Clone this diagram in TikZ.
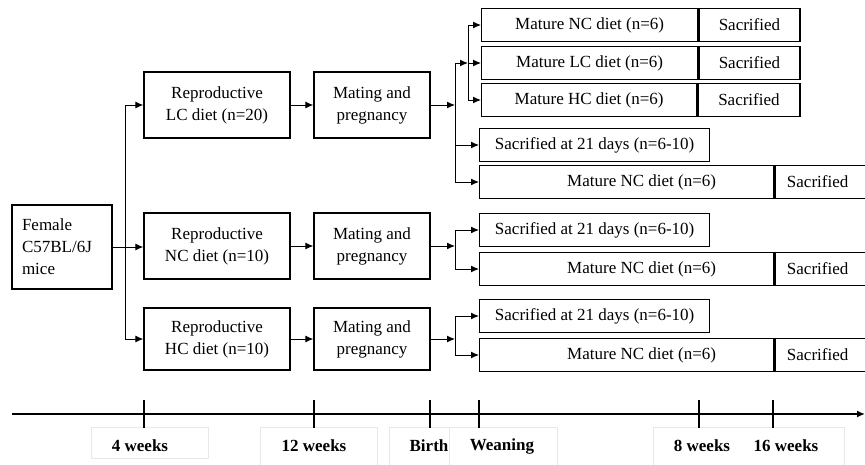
\documentclass[tikz,border=0pt]{standalone}
\usepackage{fontspec}
\setmainfont{Liberation Serif}
\usetikzlibrary{arrows.meta}
\tikzstyle{box}=[draw,line width=1.3pt,minimum height=66pt,font=\fontsize{17}{22}\selectfont,align=center,inner sep=2pt]
\tikzstyle{cell}=[draw,line width=1.3pt,minimum height=33pt,font=\fontsize{17}{20}\selectfont,inner sep=2pt,anchor=west]
\tikzstyle{sac}=[cell,text width=76pt,inner xsep=12pt,align=left]
\tikzstyle{arr}=[line width=1pt,-{Latex[length=8pt,width=7pt]}]
\tikzstyle{ln}=[line width=1pt]
\tikzstyle{tk}=[line width=1.4pt]
\tikzstyle{lab}=[font=\bfseries\fontsize{17}{20}\selectfont,inner sep=1pt]
\tikzstyle{ghost}=[draw=black!9,line width=0.6pt]

\begin{document}
\begin{tikzpicture}[x=1pt,y=-1pt]
    \useasboundingbox (0,0) rectangle (865,464);

    \node[box,text width=80pt,inner xsep=10pt,align=left,minimum height=84pt] (F) at (62,247) {Female\\C57BL/6J\\mice};

    \node[box,minimum width=146pt] (RL) at (217,105) {Reproductive\\LC diet (n=20)};
    \node[box,minimum width=146pt] (RN) at (217,246) {Reproductive\\NC diet (n=10)};
    \node[box,minimum width=146pt,minimum height=62pt] (RH) at (217,339) {Reproductive\\HC diet (n=10)};

    \node[box,minimum width=116pt] (ML) at (372,105) {Mating and\\pregnancy};
    \node[box,minimum width=116pt] (MN) at (372,246) {Mating and\\pregnancy};
    \node[box,minimum width=116pt,minimum height=62pt] (MH) at (372,339) {Mating and\\pregnancy};

    % split to the three diets
    \coordinate (T) at (125,246);
    \draw[arr] (F.east) -- (F.east -| RN.west);
    \draw[ln] (T |- RL.west) -- (T |- RH.west);
    \draw[arr] (T |- RL.west) -- (RL.west);
    \draw[arr] (T |- RH.west) -- (RH.west);
    \foreach \a/\b in {RL/ML,RN/MN,RH/MH}
        \draw[arr] (\a) -- (\b);

    % LC offspring
    \node[cell,minimum width=216pt] (AN) at (481,25)  {Mature NC diet (n=6)};
    \node[cell,minimum width=101pt] (AS) at (AN.east) {Sacrified};
    \node[cell,minimum width=216pt] (BL) at (481,63)  {Mature LC diet (n=6)};
    \node[cell,minimum width=101pt] (BS) at (BL.east) {Sacrified};
    \node[cell,minimum width=215pt] (CH) at (481,100) {Mature HC diet (n=6)};
    \node[cell,minimum width=102pt] (CS) at (CH.east) {Sacrified};
    \node[cell,minimum width=230pt] (D1) at (479,145) {Sacrified at 21 days (n=6-10)};
    \node[cell,minimum width=294pt] (E1) at (479,182) {\hspace*{30pt}Mature NC diet (n=6)};
    \node[sac] (S1) at (E1.east) {Sacrified};

    \coordinate (J1) at (455,105);
    \coordinate (J2) at (468,63);
    \draw[arr] (ML) -- (J1);
    \draw[arr] (J1 |- J2) -- (J2);
    \draw[ln] (J1 |- J2) -- (J1 |- E1.west);
    \draw[arr] (J1 |- D1.west) -- (D1.west);
    \draw[arr] (J1 |- E1.west) -- (E1.west);
    \draw[ln] (J2 |- AN.west) -- (J2 |- CH.west);
    \foreach \n in {AN,BL,CH}
        \draw[arr] (J2 |- \n.west) -- (\n.west);

    % NC offspring
    \node[cell,minimum width=230pt] (D2) at (479,230) {Sacrified at 21 days (n=6-10)};
    \node[cell,minimum width=294pt] (E2) at (479,269) {\hspace*{30pt}Mature NC diet (n=6)};
    \node[sac] (S2) at (E2.east) {Sacrified};
    \coordinate (J3) at (455,246);
    \draw[arr] (MN) -- (J3);
    \draw[ln] (J3 |- D2.west) -- (J3 |- E2.west);
    \draw[arr] (J3 |- D2.west) -- (D2.west);
    \draw[arr] (J3 |- E2.west) -- (E2.west);

    % HC offspring
    \node[cell,minimum width=230pt] (D3) at (479,316) {Sacrified at 21 days (n=6-10)};
    \node[cell,minimum width=294pt] (E3) at (479,355) {\hspace*{30pt}Mature NC diet (n=6)};
    \node[sac] (S3) at (E3.east) {Sacrified};
    \coordinate (J4) at (455,339);
    \draw[arr] (MH) -- (J4);
    \draw[ln] (J4 |- D3.west) -- (J4 |- E3.west);
    \draw[arr] (J4 |- D3.west) -- (D3.west);
    \draw[arr] (J4 |- E3.west) -- (E3.west);

    % time line
    \draw[ghost] (91,427) rectangle (208,458);
    \draw[ghost] (260,427) rectangle (377,470);
    \draw[ghost] (389,427) rectangle (449,470);
    \draw[ghost] (449,427) rectangle (557,470);
    \draw[ghost] (653,427) rectangle (844,470);
    \coordinate (t0) at (12,414);
    \coordinate (t1) at (865,414);
    \draw[tk,-{Latex[length=8pt,width=7pt]}] (t0) -- (t1);
    \foreach \x/\lx/\t [count=\i] in {144/140/4 weeks, 314/314/12 weeks, 430/429/Birth, 479/502/Weaning, 699/702/8 weeks, 773/786/16 weeks} {
        \draw[tk] (\x,400) -- (\x,428);
        \node[lab] (L\i) at (\lx,446) {\t};
    }
\end{tikzpicture}
\end{document}
